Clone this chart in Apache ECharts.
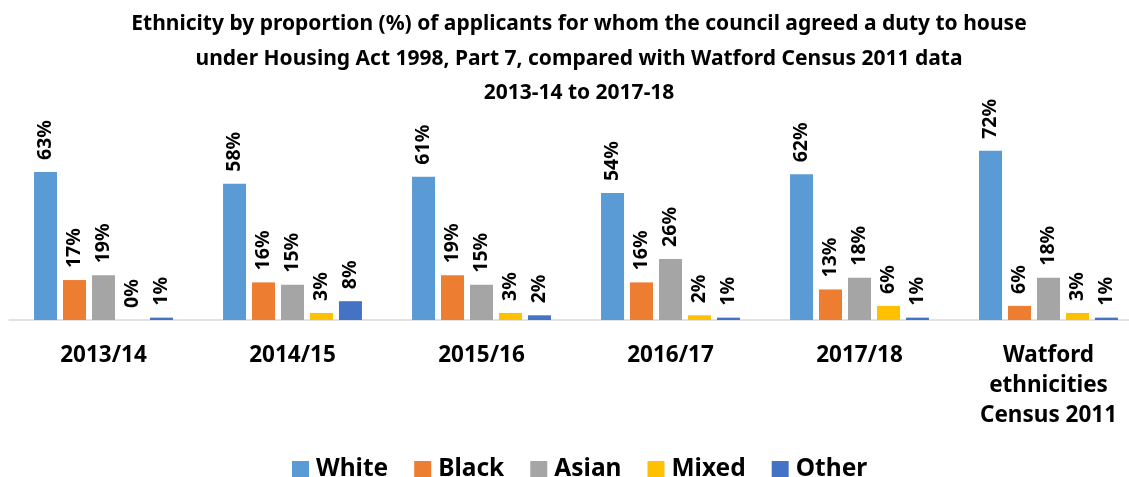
<!DOCTYPE html>
<html>
<head>
<meta charset="utf-8">
<script src="https://cdn.jsdelivr.net/npm/echarts@6/dist/echarts.min.js"></script>
<style>
  html, body { margin: 0; padding: 0; background: #fff; }
  #chart { width: 1129px; height: 477px; }
</style>
</head>
<body>
<div id="chart"></div>
<script>
  // data
  const categories = ['2013/14', '2014/15', '2015/16', '2016/17', '2017/18', 'Watford\nethnicities\nCensus 2011'];
  const white = [63, 58, 61, 54, 62, 72];
  const black = [17, 16, 19, 16, 13, 6];
  const asian = [19, 15, 15, 26, 18, 18];
  const mixed = [0, 3, 3, 2, 6, 3];
  const other = [1, 8, 2, 1, 1, 1];

  const font = 'Noto Sans';

  function makeSeries(name, data, color) {
    return {
      name: name,
      type: 'bar',
      data: data,
      barWidth: 23,
      barGap: '26%',
      itemStyle: { color: color },
      label: {
        show: true,
        position: 'top',
        rotate: 90,
        align: 'left',
        verticalAlign: 'middle',
        distance: 12,
        formatter: '{c}%',
        fontFamily: font,
        fontWeight: 'bold',
        fontSize: 19.5,
        color: '#000'
      }
    };
  }

  const myChart = echarts.init(document.getElementById('chart'));
  myChart.setOption({
    animation: false,
    title: {
      text: 'Ethnicity by proportion (%) of applicants for whom the council agreed a duty to house\nunder Housing Act 1998, Part 7, compared with Watford Census 2011 data\n2013-14 to 2017-18',
      left: 574,
      top: 2,
      textAlign: 'center',
      textStyle: {
        fontFamily: font,
        fontWeight: 'bold',
        fontSize: 21,
        lineHeight: 34.5,
        color: '#000'
      }
    },
    legend: {
      left: 292,
      top: 457,
      padding: 0,
      itemWidth: 17,
      itemHeight: 17,
      itemGap: 26,
      icon: 'rect',
      textStyle: {
        fontFamily: font,
        fontWeight: 'bold',
        fontSize: 24.5,
        color: '#000',
        padding: [0, 0, 0, 2]
      }
    },
    grid: { left: 9, width: 1134, top: 132, bottom: 157, outerBoundsMode: 'none' },
    xAxis: {
      type: 'category',
      data: categories,
      axisLine: { lineStyle: { color: '#d9d9d9', width: 1.5 } },
      axisTick: { show: false },
      axisLabel: {
        interval: 0,
        margin: 21,
        fontFamily: font,
        fontWeight: 'bold',
        fontSize: 22.5,
        lineHeight: 30,
        color: '#000'
      }
    },
    yAxis: {
      type: 'value',
      min: 0,
      max: 80,
      show: false
    },
    series: [
      makeSeries('White', white, '#5B9BD5'),
      makeSeries('Black', black, '#ED7D31'),
      makeSeries('Asian', asian, '#A5A5A5'),
      makeSeries('Mixed', mixed, '#FFC000'),
      makeSeries('Other', other, '#4472C4')
    ]
  });
</script>
</body>
</html>
